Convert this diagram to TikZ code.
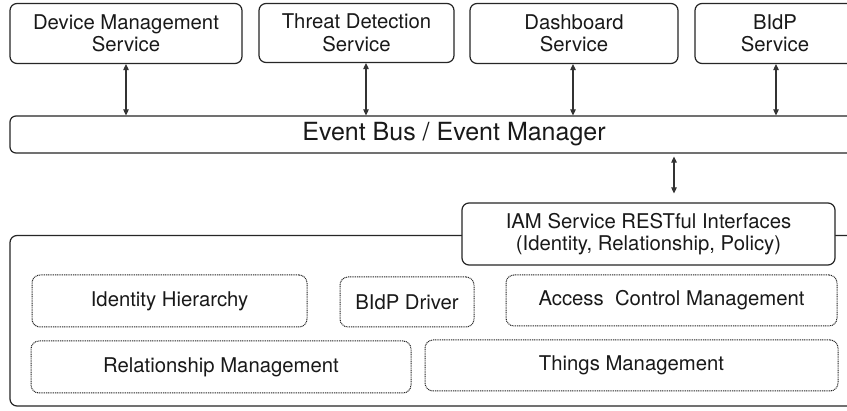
\documentclass[tikz,border=0pt]{standalone}
\usepackage{fontspec}
\setmainfont{TeX Gyre Heros}
\usetikzlibrary{arrows.meta}
\tikzset{
  svc/.style={draw=black!85, line width=1.2pt, rounded corners=7pt, fill=white,
    align=center, inner sep=0pt, text=black!90,
    font=\fontsize{20.3}{22.5}\selectfont},
  part/.style={draw=black!85, line width=1pt, dash pattern=on 1pt off 0.8pt,
    rounded corners=8pt, align=center, inner sep=0pt, text=black!90,
    font=\fontsize{20.3}{22.5}\selectfont},
  link/.style={line width=1.1pt, draw=black!80,
    {Triangle[length=6pt,width=5.5pt]}-{Triangle[length=6pt,width=5.5pt]}}
}
\begin{document}
\begin{tikzpicture}[x=1pt, y=-1pt]
\clip (0,0) rectangle (847,411);
\fill[white] (0,0) rectangle (847,411);

% service container holding the IAM components
\node[svc, minimum width=890pt, minimum height=170.5pt] (core) at (455,320.75) {};

% services on top of the bus
\node[svc, minimum width=232pt, minimum height=60pt] (dev) at (126,33.5) {Device Management\\Service};
\node[svc, minimum width=195pt, minimum height=59pt] (thr) at (356.5,33) {Threat Detection\\Service};
\node[svc, minimum width=208pt, minimum height=60pt] (dash) at (574,33.5) {Dashboard\\Service};
\node[svc, minimum width=160pt, minimum height=60pt] (bidp) at (775,33.5) {BIdP\\Service};

% event bus
\node[svc, rounded corners=6pt, minimum width=888pt, minimum height=37pt,
  font=\fontsize{25}{28}\selectfont] (bus) at (454,134.5) {Event Bus / Event Manager};

% REST front end of the IAM service
\node[svc, minimum width=373pt, minimum height=62pt] (iam) at (648.5,234)
  {IAM Service RESTful Interfaces\\(Identity, Relationship, Policy)};

% internal components
\node[part, minimum width=275pt, minimum height=52pt] (ih) at (169.5,301) {Identity Hierarchy};
\node[part, minimum width=134pt, minimum height=50pt] (bd) at (407,302) {BIdP Driver};
\node[part, minimum width=331pt, minimum height=51pt] (acm) at (671.5,300.5) {Access\ \ Control Management};
\node[part, minimum width=380pt, minimum height=52pt] (rm) at (221,367) {Relationship Management};
\node[part, minimum width=413pt, minimum height=51pt] (tm) at (631.5,365.5) {Things Management};

% connections to the bus
\draw[link] (dev.south) -- (dev.south |- bus.north);
\draw[link] (thr.south -| 366,0) -- (bus.north -| 366,0);
\draw[link] (dash.south -| 573,0) -- (bus.north -| 573,0);
\draw[link] (bidp.south -| 776,0) -- (bus.north -| 776,0);
\draw[link, shorten <=3pt, shorten >=9pt] (bus.south -| 674,0) -- (iam.north -| 674,0);
\end{tikzpicture}
\end{document}
